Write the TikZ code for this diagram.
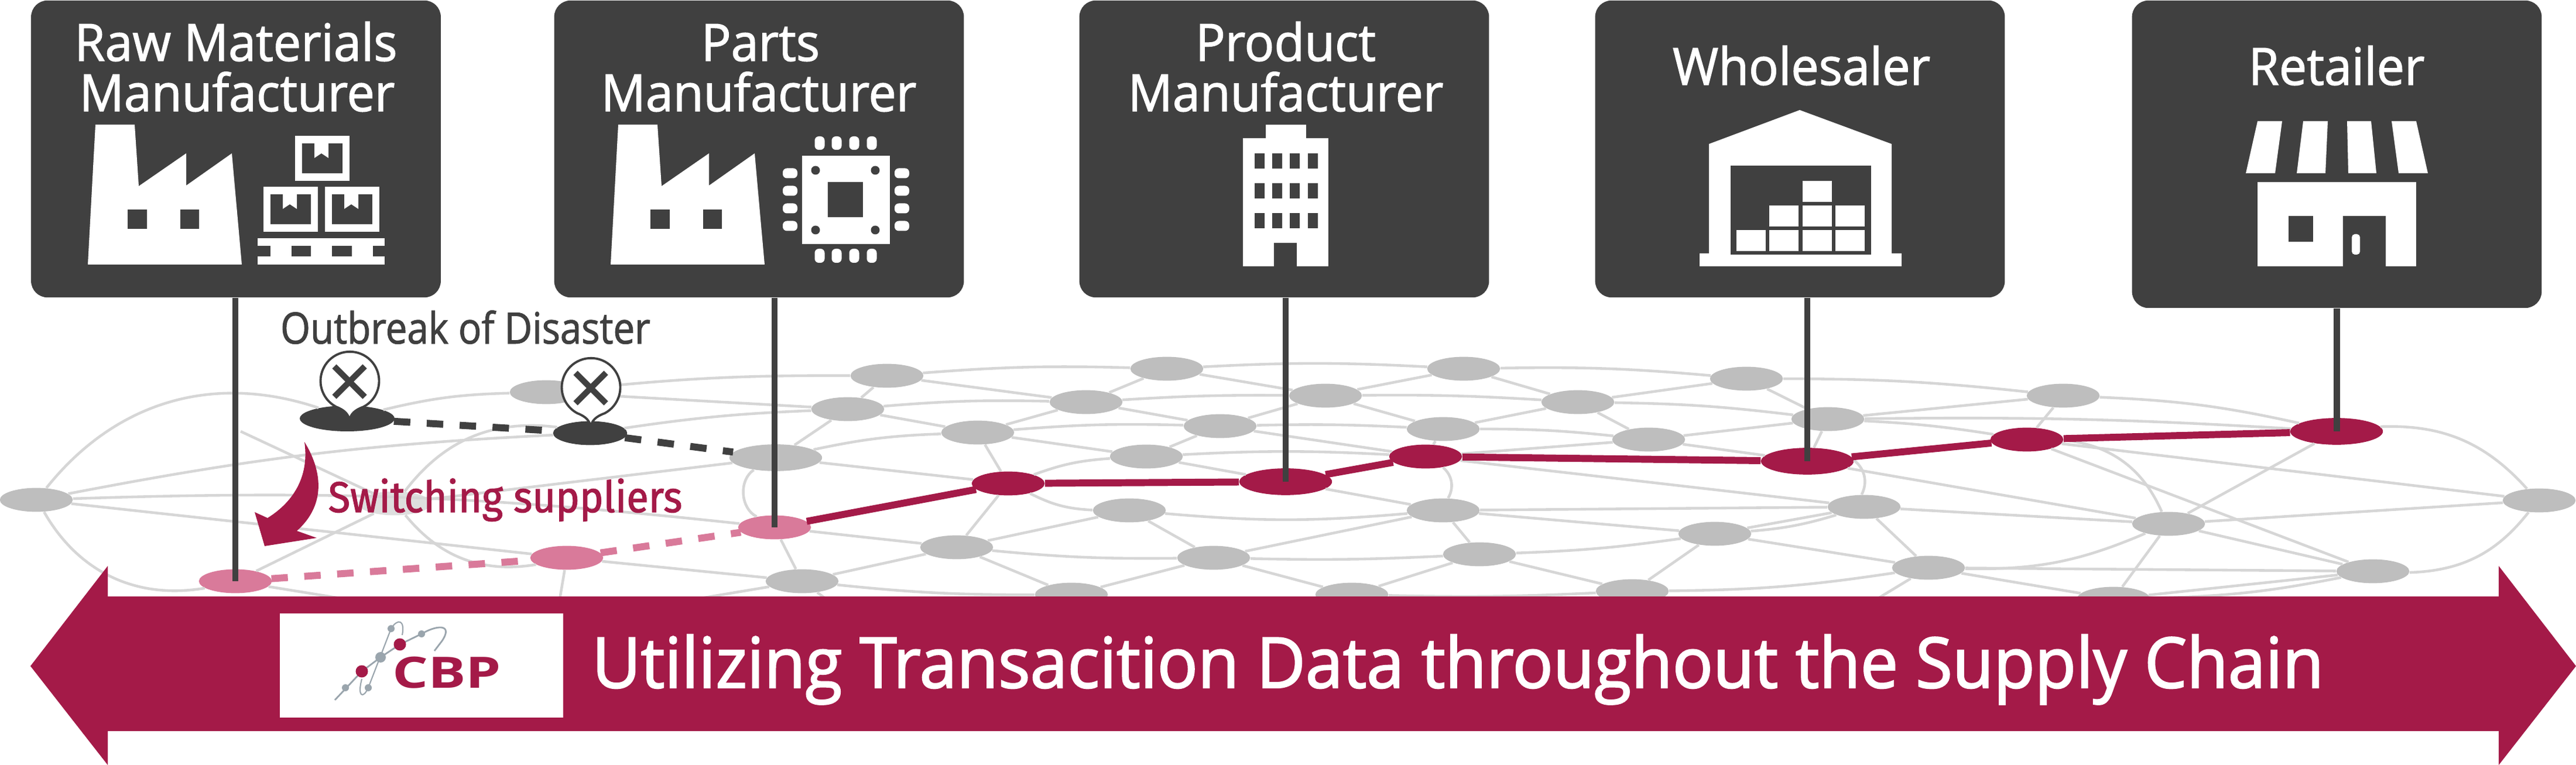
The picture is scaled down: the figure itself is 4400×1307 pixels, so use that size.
\documentclass[tikz,border=0pt]{standalone}
\usepackage{fontspec}
\setmainfont{Open Sans}
\newfontfamily\firmfont[FakeStretch=0.96,FakeBold=1.6]{Open Sans}
\newfontfamily\outbreakfont[FakeStretch=0.885,FakeBold=1.4]{Open Sans}
\newfontfamily\slogfont[FakeStretch=0.96,FakeBold=2]{Open Sans}
\newfontfamily\switchfont[FakeStretch=0.93,FakeBold=1.6]{Fira Sans}
\newfontfamily\logofont[FakeStretch=1.3]{Open Sans}
\usetikzlibrary{shapes.geometric}
\definecolor{boxdark}{HTML}{404040}
\definecolor{netgray}{HTML}{BEBEBE}
\definecolor{netline}{HTML}{D6D6D6}
\definecolor{chainred}{HTML}{A41A48}
\definecolor{chainpink}{HTML}{D97A9A}
\definecolor{logogray}{HTML}{9AA5AD}

\begin{document}
\begin{tikzpicture}
        [
          x=0.01cm, y=-0.01cm,
          netnode/.style={ellipse,inner sep=0,minimum width=35.4pt,minimum height=11.6pt,fill=netgray},
          bignode/.style={netnode,minimum width=45pt,minimum height=13pt},
          edge/.style={draw=netline,line width=1.3pt},
          stalk/.style={draw=boxdark,line width=3.1pt},
          chain/.style={draw=chainred,line width=3.4pt},
          brokenchain/.style={line width=3.4pt,dash pattern=on 8pt off 8pt},
          firmbox/.style={rectangle,rounded corners=8pt,fill=boxdark,inner sep=0,minimum width=199pt},
          firmtext/.style={anchor=base,text=white,font=\firmfont\fontsize{25}{30}\selectfont},
          icon/.style={fill=white},
          hole/.style={fill=boxdark},
          pin/.style={draw=boxdark,fill=white,line width=1.1pt}
        ]
        \useasboundingbox (0,0) rectangle (4400,1307);
        % grey nodes
        \foreach \name/\x/\y in {left/62/854,top0/933/670,top1/1515/642,top2/1993/630,top3/2500/630,
            top4/2983/647,top5/3524/676,sec1/1448/699,sec2/1855/687,sec3/2264/676,sec4/2695/687,
            sec5/3122/716,thr1/1670/739,thr2/2084/728,thr3/2465/733,thr4/2816/751,mid1/1958/780,
            mid2/1929/872,mid3/2465/872,mid4/3184/866,mid5/3704/895,right/4337/855,low1/1634/935,
            low2/2073/953,low3/2527/947,low4/2929/912,low5/3294/970,low6/4053/976,bot0/1370/993,
            bot1/1830/1016,bot2/2309/1016,bot3/2788/1010,bot4/3610/1023} {
            \node [netnode] (\name) at (\x,\y) {};
        }
        \node [bignode] (sw) at (1325,782) {};
        \node [netnode,opacity=0.5] (hub) at (674,860) {};
        % disaster nodes
        \node [netnode,fill=boxdark,minimum width=46pt,minimum height=12.5pt] (dark1) at (593,715) {};
        \node [netnode,fill=boxdark,minimum width=36pt] (dark2) at (1008,740) {};
        % switched nodes
        \foreach \name/\x/\y in {pink1/402/993,pink2/968/953,pink3/1323/901} {
            \node [netnode,fill=chainpink] (\name) at (\x,\y) {};
        }
        % chain nodes
        \node [netnode,fill=chainred] (red1) at (1722,826) {};
        \node [bignode,fill=chainred] (red2) at (2196,823) {};
        \node [netnode,fill=chainred] (red3) at (2435,780) {};
        \node [bignode,fill=chainred] (red4) at (3087,788) {};
        \node [netnode,fill=chainred] (red5) at (3462,751) {};
        \node [bignode,fill=chainred] (red6) at (3991,737) {};
        % free ends under the band
        \foreach \name/\x/\y in {ring/411/737,end1/630/1030,end2/955/1030,end3/1150/1030,end4/1420/1030,end5/3195/1030} {
            \coordinate (\name) at (\x,\y);
        }
        % straight edges
        \foreach \a/\b in {top0/sec1,top1/sec1,top1/sec2,top2/sec2,top2/sec3,sec3/top3,top3/sec4,sec4/top4,
            top4/sec5,sec5/top5,top5/red5,sec1/thr1,sec2/thr1,sec2/thr2,sec3/thr2,sec3/thr3,sec4/thr3,sec4/thr4,
            sec1/sw,thr1/red1,thr1/mid1,thr2/mid1,thr2/red3,thr3/red3,red3/thr4,red3/mid4,thr4/sec5,thr4/red4,
            sec5/red4,sw/red1,sw/hub,mid1/red2,red2/mid3,mid2/low1,mid2/low2,red1/low1,mid3/low2,mid3/low3,
            mid3/low4,mid3/mid4,low1/pink3,low1/bot0,low1/bot1,low2/bot1,low2/bot2,low3/bot2,low3/bot3,
            bot3/low4,pink3/bot0,pink2/bot0,red4/mid5,mid4/mid5,red5/right,red5/low6,red6/mid5,mid5/right,
            mid5/low6,mid5/bot4,low5/low6,low5/bot4,low6/bot4,low5/mid4,low5/low4,mid4/low4,
            ring/hub,pink1/hub,left/pink2,pink2/end2,bot0/end3,bot0/end4,pink1/end1,low5/end5} {
            \draw [edge] (\a) -- (\b);
        }
        % ring edges
        \foreach \a/\b/\c in {left/dark1/35,dark1/top0/6,top0/top1/3,top1/top2/3,top2/top3/3,top3/top4/3,
            top4/top5/3,top5/red6/5,red6/right/25,left/dark2/4,dark2/sec1/3,sec1/sec2/3,sec2/sec3/2,
            sec3/sec4/2,sec4/sec5/3,sec5/red6/2,sec5/red5/3,left/pink3/4,thr1/thr2/3,thr2/thr3/2,thr3/thr4/3,
            sw/thr1/5,mid1/red3/3,red1/mid1/8,low5/mid5/-12,bot0/bot1/-3,bot2/bot3/-2,low1/low2/-3,low2/low3/-2,
            low3/low4/-3,mid2/mid3/-5,red1/mid2/-12,left/pink1/-35,bot3/low5/-4,low4/mid4/-6,
            red3/mid3/40,red4/mid4/40,red5/mid5/30,dark2/hub/-30,hub/pink2/-30,right/low6/25,low6/bot4/5} {
            \draw [edge] (\a) to [bend left=\c] (\b);
        }
        \draw [edge] (sw) to [bend right=60] (pink3);
        % route
        \draw [brokenchain,draw=boxdark] (dark1) -- (dark2);
        \draw [brokenchain,draw=boxdark] (dark2) -- (sw);
        \draw [brokenchain,draw=chainpink] (pink1) -- (pink2);
        \draw [brokenchain,draw=chainpink] (pink2) -- (pink3);
        \draw [chain] (pink3) -- (red1);
        \draw [chain] (red1) -- (red2);
        \draw [chain] (red2) -- (red3);
        \draw [chain] (red3) -- (red4);
        \draw [chain] (red4) -- (red5);
        \draw [chain] (red5) -- (red6);
        % boxes
        \node [firmbox,minimum height=144.3pt] (rawbox) at (403,254.5) {};
        \node [firmbox,minimum height=144.3pt] (partsbox) at (1296.5,254.5) {};
        \node [firmbox,minimum height=144.3pt] (prodbox) at (2193.5,254.5) {};
        \node [firmbox,minimum height=144.3pt] (wholebox) at (3074.5,254.5) {};
        \node [firmbox,minimum height=149.4pt] (retailbox) at (3991.5,263.5) {};
        \node [firmtext] (raw1) at (403,104) {Raw Materials};
        \node [firmtext] (raw2) at (405,190) {Manufacturer};
        \node [firmtext] (parts1) at (1299,104) {Parts};
        \node [firmtext] (parts2) at (1296,190) {Manufacturer};
        \node [firmtext] (prod1) at (2196,104) {Product};
        \node [firmtext] (prod2) at (2196,190) {Manufacturer};
        \node [firmtext] (whole1) at (3077,145) {Wholesaler};
        \node [firmtext] (retail1) at (3991,145) {Retailer};
        % stalks
        \draw [stalk] (pink1.center |- rawbox.south) -- (pink1.center);
        \draw [stalk] (pink3.center |- partsbox.south) -- (pink3.center);
        \draw [stalk] (red2.center |- prodbox.south) -- (red2.center);
        \draw [stalk] (red4.center |- wholebox.south) -- (red4.center);
        \draw [stalk] (red6.center |- retailbox.south) -- (red6.center);
        % factories
        \foreach \dx in {0,893} {
            \begin{scope}[shift={(\dx,0)}]
            \fill [icon] (163,213) -- (230,213) -- (237,318) -- (318,262) -- (318,317) -- (396,262) -- (413,452) -- (150,452) -- cycle;
            \fill [hole] (218,358) rectangle (251,391);
            \fill [hole] (308,358) rectangle (340,391);
            \end{scope}
        }
        % cartons
        \foreach \x/\y in {504/232,450/319,555/319} {
            \begin{scope}[shift={(\x,\y)}]
            \fill [icon] (0,0) rectangle (93,77);
            \fill [hole] (12,13) rectangle (81,64);
            \fill [icon] (33,13) -- (57,13) -- (57,38) -- (45,30) -- (33,38) -- cycle;
            \end{scope}
        }
        % pallet
        \fill [icon] (440,407) rectangle (657,420);
        \fill [icon] (440,438) rectangle (657,452);
        \foreach \x in {462,531,601} {
            \fill [icon] (\x,418) rectangle ++(36,22);
        }
        % chip
        \fill [icon] (1370,266) rectangle (1520,417);
        \fill [hole] (1414,311) rectangle (1474,371);
        \foreach \x/\y in {1393/291,1495/291,1393/393,1495/393} {
            \fill [hole] (\x,\y) circle (7.5);
        }
        \foreach \x in {1400,1429,1459,1489} {
            \fill [icon,rounded corners=2pt] (\x-8.5,233) rectangle (\x+8.5,256);
            \fill [icon,rounded corners=2pt] (\x-8.5,425) rectangle (\x+8.5,449);
        }
        \foreach \y in {296,326,356,386} {
            \fill [icon,rounded corners=2pt] (1337,\y-8.5) rectangle (1362,\y+8.5);
            \fill [icon,rounded corners=2pt] (1528,\y-8.5) rectangle (1553,\y+8.5);
        }
        % office
        \fill [icon] (2162,213) rectangle (2231,237);
        \fill [icon] (2123,236) rectangle (2269,455);
        \foreach \x in {2143,2173,2203,2234} {
            \foreach \y in {262,313,364} {
                \fill [hole] (\x,\y) rectangle ++(17,26);
            }
        }
        \fill [hole] (2176,415) rectangle (2215,455);
        % warehouse
        \fill [icon] (3074,188) -- (3231,246) -- (3231,433) -- (3248,433) -- (3248,455) -- (2903,455) -- (2903,433) -- (2919,433) -- (2919,246) -- cycle;
        \fill [hole] (2956,283) rectangle (3196,435);
        \foreach \x/\y in {2966/393,3022/393,3079/393,3135/393,3022/351,3079/351,3135/351,3079/309} {
            \fill [icon] (\x,\y) rectangle ++(50,36);
        }
        % store
        \fill [icon] (3856,207) -- (3898,207) -- (3886,296) -- (3836,296) -- cycle;
        \fill [icon] (3934,207) -- (3976,207) -- (3972,296) -- (3923,296) -- cycle;
        \fill [icon] (4009,207) -- (4050,207) -- (4059,296) -- (4011,296) -- cycle;
        \fill [icon] (4085,207) -- (4127,207) -- (4147,296) -- (4097,296) -- cycle;
        \fill [icon] (3856,311) rectangle (4127,455);
        \fill [hole] (3909,369) rectangle (3951,413);
        \fill [hole] (4002,369) rectangle (4075,455);
        \fill [icon,rounded corners=1.5pt] (4017,400) rectangle (4031,435);
        % disaster pins
        \foreach \x/\y in {597/717,1009/728} {
            \begin{scope}[shift={(\x,\y)}]
            \draw [pin] (0,0) .. controls (3,-10) and (8,-16) .. (24,-22)
                arc [start angle=62,end angle=-242,radius=50]
                .. controls (-8,-16) and (-3,-10) .. (0,0) -- cycle;
            \draw [boxdark,line width=2.9pt] (-26,-91) -- (26,-39);
            \draw [boxdark,line width=2.9pt] (-26,-39) -- (26,-91);
            \end{scope}
        }
        \node [anchor=base,text=boxdark,font=\outbreakfont\fontsize{21}{25}\selectfont] (outbreak) at (795,587) {Outbreak of Disaster};
        % switching
        \fill [chainred] (520,755) .. controls (548,800) and (560,860) .. (507,907) -- (541,919) -- (452,933) -- (435,875) -- (457,885) .. controls (505,855) and (528,810) .. (520,755) -- cycle;
        \node [anchor=base,text=chainred,font=\switchfont\fontsize{21}{25}\selectfont] (switching) at (863,875) {Switching suppliers};
        % band
        \fill [chainred] (52,1138) -- (184,967) -- (184,1019) -- (4268,1019) -- (4268,967) -- (4400,1138) -- (4268,1307) -- (4268,1249) -- (184,1249) -- (184,1307) -- cycle;
        \node [anchor=base,text=white,font=\slogfont\fontsize{34}{40}\selectfont] (slogan) at (2490,1175) {Utilizing Transacition Data throughout the Supply Chain};
        % logo
        \fill [white] (478,1048) rectangle (962,1226);
        \draw [logogray,line width=0.8pt] (572,1196) -- (618,1147) -- (650,1123) -- (683,1101) -- (720,1083) .. controls (745,1068) and (775,1065) .. (755,1095) -- (742,1112);
        \draw [logogray,line width=0.6pt] (629,1175) -- (668,1074) .. controls (680,1055) and (692,1060) .. (687,1085);
        \draw [logogray,line width=0.6pt] (629,1175) .. controls (620,1195) and (610,1190) .. (618,1160);
        \foreach \x/\y/\r in {668/1074/6,720/1083/6,650/1123/9,590/1175/6,629/1175/6} {
            \fill [logogray] (\x,\y) circle (\r);
        }
        \foreach \x/\y in {683/1101,618/1147} {
            \fill [chainred] (\x,\y) circle (10.5);
        }
        \node [anchor=base,text=chainred,font=\logofont\bfseries\fontsize{21}{25}\selectfont] (cbp) at (763,1175) {CBP};
\end{tikzpicture}
\end{document}
